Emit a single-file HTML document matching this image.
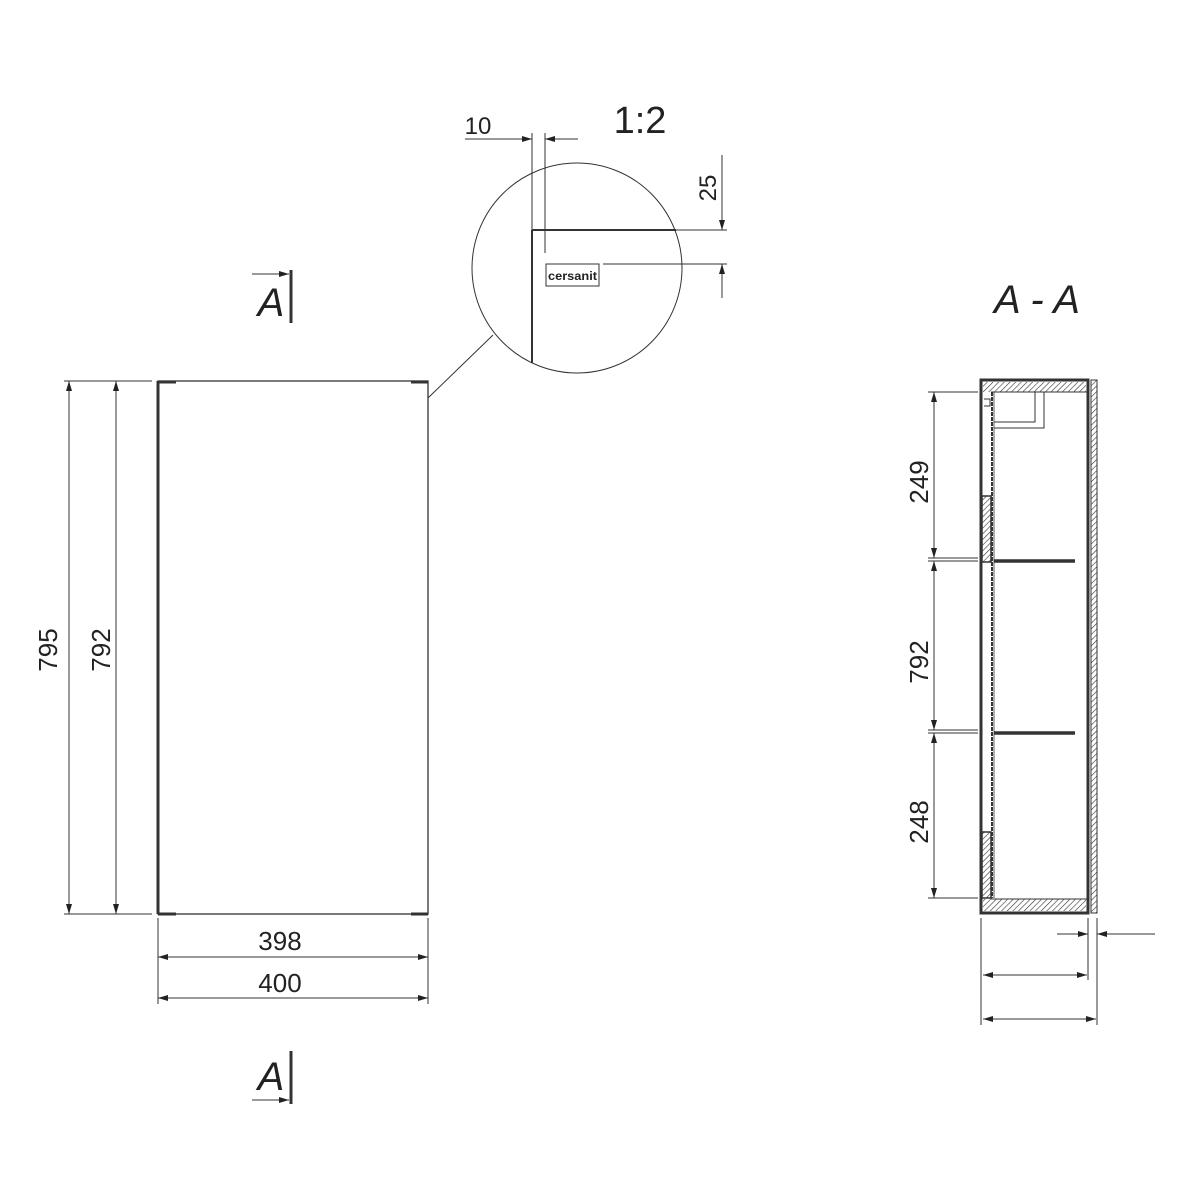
<!DOCTYPE html>
<html><head><style>body{margin:0;background:#fff}svg{display:block}text{font-family:"Liberation Sans",sans-serif;fill:#222}</style></head>
<body>
<svg width="1200" height="1200" viewBox="0 0 1200 1200" xmlns="http://www.w3.org/2000/svg">
<defs>
<marker id="a" viewBox="0 0 10 6" refX="10" refY="3" markerWidth="12" markerHeight="6" markerUnits="userSpaceOnUse" orient="auto-start-reverse"><path d="M0,0L10,3L0,6z" fill="#222"/></marker>
<pattern id="h" width="4" height="4" patternUnits="userSpaceOnUse" patternTransform="rotate(45)"><rect width="4" height="4" fill="#fff"/><line x1="0" y1="0" x2="0" y2="4" stroke="#333" stroke-width="1.2"/></pattern>
</defs>
<g stroke="#333" fill="none" stroke-width="1">
<rect x="158" y="381" width="270" height="533" stroke-width="1.3"/>
<line x1="158" y1="381" x2="158" y2="914" stroke-width="3"/>
<line x1="158" y1="382" x2="176" y2="382" stroke-width="3"/>
<line x1="411" y1="382" x2="428" y2="382" stroke-width="3"/>
<line x1="158" y1="914" x2="176" y2="914" stroke-width="3"/>
<line x1="411" y1="914" x2="428" y2="914" stroke-width="3"/>
<line x1="64" y1="381" x2="152" y2="381"/>
<line x1="64" y1="914" x2="152" y2="914"/>
<line x1="69" y1="381" x2="69" y2="914" marker-start="url(#a)" marker-end="url(#a)"/>
<line x1="116" y1="381" x2="116" y2="914" marker-start="url(#a)" marker-end="url(#a)"/>
<line x1="158" y1="918" x2="158" y2="1004"/>
<line x1="428" y1="918" x2="428" y2="1004"/>
<line x1="158" y1="957" x2="428" y2="957" marker-start="url(#a)" marker-end="url(#a)"/>
<line x1="158" y1="998" x2="428" y2="998" marker-start="url(#a)" marker-end="url(#a)"/>
<line x1="428" y1="398" x2="493" y2="335"/>
<circle cx="577" cy="268" r="105"/>
<line x1="532" y1="230" x2="532" y2="363" stroke-width="2"/>
<line x1="532" y1="230" x2="676" y2="230" stroke-width="2"/>
<line x1="676" y1="230" x2="727" y2="230"/>
<line x1="532" y1="133" x2="532" y2="230"/>
<line x1="545" y1="133" x2="545" y2="253"/>
<line x1="465" y1="139" x2="532" y2="139" marker-end="url(#a)"/>
<line x1="578" y1="139" x2="545" y2="139" marker-end="url(#a)"/>
<rect x="546" y="264" width="53" height="22" stroke-width="1"/>
<line x1="603" y1="264" x2="727" y2="264"/>
<line x1="722" y1="155" x2="722" y2="230" marker-end="url(#a)"/>
<line x1="722" y1="298" x2="722" y2="264" marker-end="url(#a)"/>
<line x1="291" y1="270" x2="291" y2="323" stroke-width="3"/>
<line x1="252" y1="274" x2="289" y2="274" marker-end="url(#a)"/>
<line x1="291" y1="1051" x2="291" y2="1104" stroke-width="3"/>
<line x1="252" y1="1100" x2="289" y2="1100" marker-end="url(#a)"/>
<rect x="981" y="380" width="107" height="533" stroke-width="3"/>
<rect x="983" y="382" width="103" height="10" fill="url(#h)" stroke="none"/>
<rect x="983" y="899" width="103" height="12" fill="url(#h)" stroke="none"/>
<line x1="991" y1="392" x2="1087" y2="392"/>
<line x1="991" y1="899" x2="1087" y2="899"/>
<rect x="1091" y="380" width="6" height="533" fill="url(#h)"/>
<rect x="982" y="496" width="9" height="66" fill="url(#h)" stroke-width="1.5"/>
<rect x="982" y="832" width="9" height="66" fill="url(#h)" stroke-width="1.5"/>
<line x1="992" y1="392" x2="992" y2="898" stroke-dasharray="4 1" stroke-width="2"/>
<line x1="994" y1="392" x2="994" y2="898" stroke-width="0.8"/>
<line x1="994" y1="561" x2="1075" y2="561" stroke-width="3.5"/>
<line x1="994" y1="733" x2="1075" y2="733" stroke-width="3.5"/>
<path d="M994 422 H1035 V392 M994 428 H1044 V392" stroke-width="1"/>
<path d="M984 399 h6 v7 h-6" stroke-width="1"/>
<line x1="928" y1="392" x2="978" y2="392"/>
<line x1="928" y1="898" x2="978" y2="898"/>
<line x1="928" y1="558" x2="978" y2="558"/>
<line x1="928" y1="561" x2="978" y2="561"/>
<line x1="928" y1="730" x2="978" y2="730"/>
<line x1="928" y1="733" x2="978" y2="733"/>
<line x1="934" y1="392" x2="934" y2="558" marker-start="url(#a)" marker-end="url(#a)"/>
<line x1="934" y1="561" x2="934" y2="730" marker-start="url(#a)" marker-end="url(#a)"/>
<line x1="934" y1="733" x2="934" y2="898" marker-start="url(#a)" marker-end="url(#a)"/>
<line x1="981" y1="918" x2="981" y2="1025"/>
<line x1="1088" y1="918" x2="1088" y2="980"/>
<line x1="1097" y1="918" x2="1097" y2="1025"/>
<line x1="983" y1="975" x2="1087" y2="975" marker-start="url(#a)" marker-end="url(#a)"/>
<line x1="983" y1="1019" x2="1096" y2="1019" marker-start="url(#a)" marker-end="url(#a)"/>
<line x1="1057" y1="934" x2="1088" y2="934" marker-end="url(#a)"/>
<line x1="1155" y1="934" x2="1097" y2="934" marker-end="url(#a)"/>
</g>
<text x="548" y="280" font-size="12" font-weight="bold" fill="#111" textLength="49" lengthAdjust="spacingAndGlyphs">cersanit</text>
<text x="478" y="134" font-size="24" text-anchor="middle">10</text>
<text x="640" y="133" font-size="38" text-anchor="middle">1:2</text>
<text transform="translate(716,188) rotate(-90)" font-size="24" text-anchor="middle">25</text>
<text transform="translate(57,650) rotate(-90)" font-size="26" text-anchor="middle">795</text>
<text transform="translate(110,650) rotate(-90)" font-size="26" text-anchor="middle">792</text>
<text x="280" y="950" font-size="26" text-anchor="middle">398</text>
<text x="280" y="992" font-size="26" text-anchor="middle">400</text>
<text x="271" y="316" font-size="40" font-style="italic" text-anchor="middle">A</text>
<text x="271" y="1090" font-size="40" font-style="italic" text-anchor="middle">A</text>
<text x="1037" y="313" font-size="40" font-style="italic" text-anchor="middle">A - A</text>
<text transform="translate(928,482) rotate(-90)" font-size="26" text-anchor="middle">249</text>
<text transform="translate(928,662) rotate(-90)" font-size="26" text-anchor="middle">792</text>
<text transform="translate(928,822) rotate(-90)" font-size="26" text-anchor="middle">248</text>
</svg>
</body></html>
